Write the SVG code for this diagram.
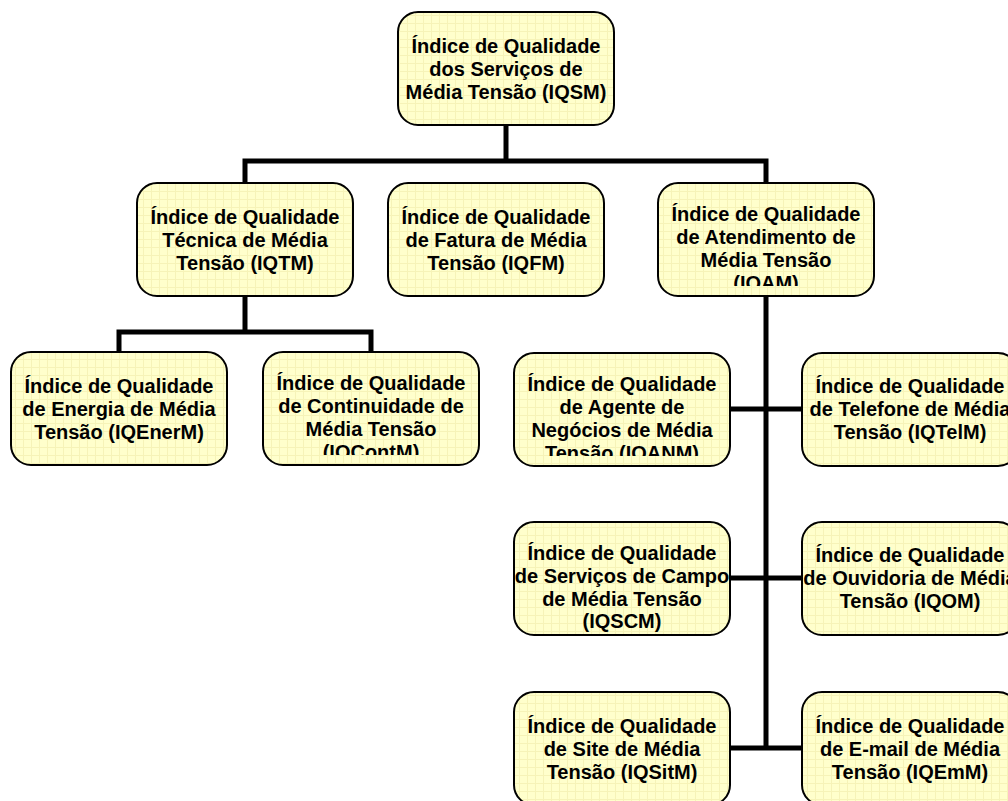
<svg xmlns="http://www.w3.org/2000/svg" width="1008" height="801" viewBox="0 0 1008 801">
<style>
.box{fill:url(#grid);stroke:#000;stroke-width:2}
.t{font-family:"Liberation Sans",Arial,sans-serif;font-weight:bold;font-size:20px;fill:#000;text-anchor:middle}
.c{fill:none;stroke:#000;stroke-width:5;stroke-linecap:square}
</style>
<defs>
<pattern id="grid" width="8" height="8" patternUnits="userSpaceOnUse">
<rect width="8" height="8" fill="#FFFFCC"/>
<path d="M7.5 0V8M0 7.5H8" stroke="#F6F3B8" stroke-width="1"/>
</pattern>
<clipPath id="clipIQAM"><rect x="658" y="183" width="216" height="103"/></clipPath>
<clipPath id="clipIQContM"><rect x="263" y="352" width="216" height="103"/></clipPath>
<clipPath id="clipIQANM"><rect x="514" y="353" width="216" height="103"/></clipPath>
</defs>
<g id="connectors">
<path class="c" d="M506 125V161M245 161H766M245 161V183M766 161V183"/>
<path class="c" d="M245 296V332M119 332H371M119 332V352M371 332V352"/>
<path class="c" d="M766 296V748M730 409H802M730 578H802M730 748H802"/>
</g>
<g id="IQSM">
<rect class="box" x="398" y="12" width="216" height="113" rx="20"/>
<text class="t"><tspan x="506" y="53">Índice de Qualidade</tspan><tspan x="506" y="76">dos Serviços de</tspan><tspan x="506" y="99">Média Tensão (IQSM)</tspan></text>
</g>
<g id="IQTM">
<rect class="box" x="137" y="183" width="216" height="113" rx="20"/>
<text class="t"><tspan x="245" y="224">Índice de Qualidade</tspan><tspan x="245" y="247">Técnica de Média</tspan><tspan x="245" y="270">Tensão (IQTM)</tspan></text>
</g>
<g id="IQFM">
<rect class="box" x="388" y="183" width="216" height="113" rx="20"/>
<text class="t"><tspan x="496" y="224">Índice de Qualidade</tspan><tspan x="496" y="247">de Fatura de Média</tspan><tspan x="496" y="270">Tensão (IQFM)</tspan></text>
</g>
<g id="IQAM">
<rect class="box" x="658" y="183" width="216" height="113" rx="20"/>
<text class="t" clip-path="url(#clipIQAM)"><tspan x="766" y="221">Índice de Qualidade</tspan><tspan x="766" y="244">de Atendimento de</tspan><tspan x="766" y="267">Média Tensão</tspan><tspan x="766" y="290">(IQAM)</tspan></text>
</g>
<g id="IQEnerM">
<rect class="box" x="11" y="352" width="216" height="113" rx="20"/>
<text class="t"><tspan x="119" y="393">Índice de Qualidade</tspan><tspan x="119" y="416">de Energia de Média</tspan><tspan x="119" y="439">Tensão (IQEnerM)</tspan></text>
</g>
<g id="IQContM">
<rect class="box" x="263" y="352" width="216" height="113" rx="20"/>
<text class="t" clip-path="url(#clipIQContM)"><tspan x="371" y="390">Índice de Qualidade</tspan><tspan x="371" y="413">de Continuidade de</tspan><tspan x="371" y="436">Média Tensão</tspan><tspan x="371" y="459">(IQContM)</tspan></text>
</g>
<g id="IQANM">
<rect class="box" x="514" y="353" width="216" height="113" rx="20"/>
<text class="t" clip-path="url(#clipIQANM)"><tspan x="622" y="391">Índice de Qualidade</tspan><tspan x="622" y="414">de Agente de</tspan><tspan x="622" y="437">Negócios de Média</tspan><tspan x="622" y="460">Tensão (IQANM)</tspan></text>
</g>
<g id="IQTelM">
<rect class="box" x="802" y="353" width="216" height="113" rx="20"/>
<text class="t"><tspan x="910" y="393">Índice de Qualidade</tspan><tspan x="910" y="416">de Telefone de Média</tspan><tspan x="910" y="439">Tensão (IQTelM)</tspan></text>
</g>
<g id="IQSCM">
<rect class="box" x="514" y="522" width="216" height="113" rx="20"/>
<text class="t"><tspan x="622" y="560">Índice de Qualidade</tspan><tspan x="622" y="583">de Serviços de Campo</tspan><tspan x="622" y="606">de Média Tensão</tspan><tspan x="622" y="628">(IQSCM)</tspan></text>
</g>
<g id="IQOM">
<rect class="box" x="802" y="522" width="216" height="113" rx="20"/>
<text class="t"><tspan x="910" y="562">Índice de Qualidade</tspan><tspan x="910" y="585">de Ouvidoria de Média</tspan><tspan x="910" y="608">Tensão (IQOM)</tspan></text>
</g>
<g id="IQSitM">
<rect class="box" x="514" y="692" width="216" height="113" rx="20"/>
<text class="t"><tspan x="622" y="733">Índice de Qualidade</tspan><tspan x="622" y="756">de Site de Média</tspan><tspan x="622" y="779">Tensão (IQSitM)</tspan></text>
</g>
<g id="IQEmM">
<rect class="box" x="802" y="692" width="216" height="113" rx="20"/>
<text class="t"><tspan x="910" y="733">Índice de Qualidade</tspan><tspan x="910" y="756">de E-mail de Média</tspan><tspan x="910" y="779">Tensão (IQEmM)</tspan></text>
</g>
</svg>
